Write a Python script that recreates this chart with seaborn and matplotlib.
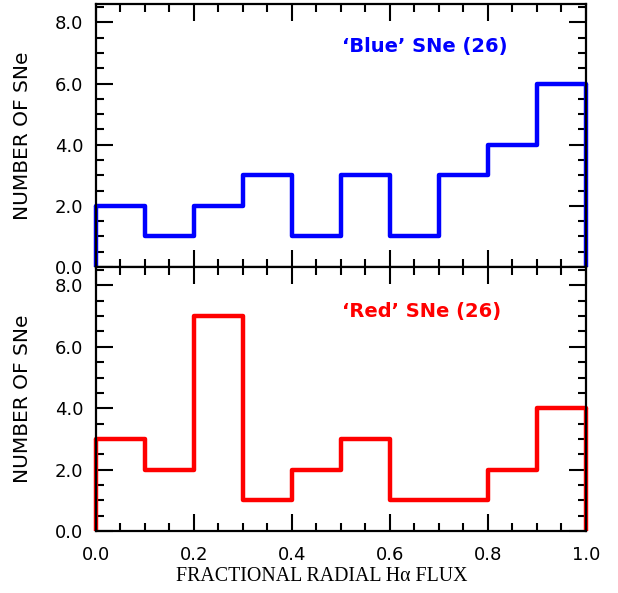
import numpy as np
import seaborn as sns
import matplotlib.pyplot as plt
from matplotlib.ticker import MultipleLocator, FormatStrFormatter

# histogram bins of fractional radial H-alpha flux
bin_edges = [0.0, 0.1, 0.2, 0.3, 0.4, 0.5, 0.6, 0.7, 0.8, 0.9, 1.0]
blue_counts = [2, 1, 2, 3, 1, 3, 1, 3, 4, 6]
red_counts = [3, 2, 7, 1, 2, 3, 1, 1, 2, 4]
blue_label = "\u2018Blue\u2019 SNe (26)"
red_label = "\u2018Red\u2019 SNe (26)"
x_label = "FRACTIONAL RADIAL H\u03b1 FLUX"
y_label = "NUMBER OF SNe"

sns.set_style("ticks")
plt.rcParams["font.family"] = ["DejaVu Sans"]
plt.rcParams["axes.labelcolor"] = "black"
plt.rcParams["text.color"] = "black"

fig = plt.figure(figsize=(6.18, 5.93), dpi=100)
ax_top = fig.add_axes([0.1553, 0.5497, 0.7929, 0.4436])
ax_bot = fig.add_axes([0.1553, 0.1046, 0.7929, 0.4451])

centers = [(a + b) / 2 for a, b in zip(bin_edges[:-1], bin_edges[1:])]

panels = [
    (ax_top, blue_counts, "#0000ff", blue_label, 0.84),
    (ax_bot, red_counts, "#ff0000", red_label, 0.83),
]

for ax, counts, color, label, ty in panels:
    sns.histplot(x=centers, weights=counts, bins=bin_edges, element="step",
                 fill=False, color=color, linewidth=3.2, ax=ax)
    # close the outline down to zero at both ends
    ax.vlines([bin_edges[0], bin_edges[-1]], 0, [counts[0], counts[-1]],
              color=color, linewidth=3.2)
    for art in ax.lines + ax.collections:
        art.set_clip_on(False)
    ax.set_xlim(0.0, 1.0)
    ax.set_ylim(0.0, 8.6)
    ax.xaxis.set_major_locator(MultipleLocator(0.2))
    ax.xaxis.set_minor_locator(MultipleLocator(0.05))
    ax.yaxis.set_major_locator(MultipleLocator(2.0))
    ax.yaxis.set_minor_locator(MultipleLocator(0.5))
    ax.xaxis.set_major_formatter(FormatStrFormatter("%.1f"))
    ax.yaxis.set_major_formatter(FormatStrFormatter("%.1f"))
    ax.tick_params(which="both", direction="in", top=True, right=True,
                   width=1.5, colors="black", labelsize=13)
    ax.tick_params(which="major", length=12)
    ax.tick_params(which="minor", length=6)
    ax.tick_params(axis="y", pad=9)
    ax.tick_params(axis="x", pad=11)
    for sp in ax.spines.values():
        sp.set_linewidth(1.6)
        sp.set_color("black")
        sp.set_visible(True)
    ax.set_ylabel(y_label, fontsize=14.5, color="black")
    ax.yaxis.set_label_coords(-0.13, 0.5)
    ax.text(0.503, ty, label, transform=ax.transAxes,
            color=color, fontsize=14, fontweight="bold", ha="left", va="center")

ax_top.set_xlabel("")
ax_top.tick_params(labelbottom=False)
ax_bot.set_xlabel(x_label, fontsize=14.3, family="Liberation Serif", color="black")
ax_bot.xaxis.set_label_coords(0.461, -0.135)

fig.savefig("out.png", dpi=100)
